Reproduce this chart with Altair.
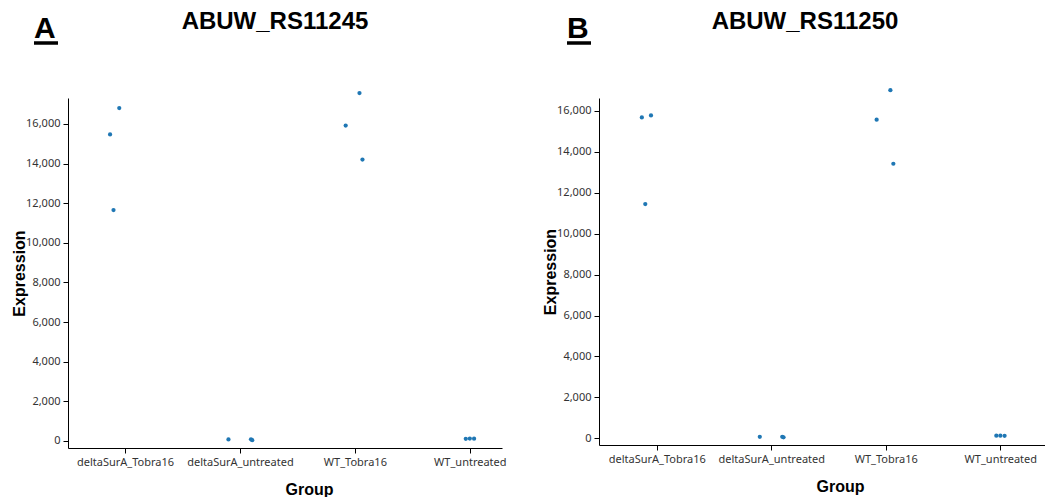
import altair as alt
import pandas as pd

groups = ["deltaSurA_Tobra16", "deltaSurA_untreated", "WT_Tobra16", "WT_untreated"]
genes = ["ABUW_RS11245", "ABUW_RS11250"]
panel_letters = ["A", "B"]

# jitter offsets, one per replicate per group
jitter = {
    "deltaSurA_Tobra16": [-0.13, -0.05, -0.10],
    "deltaSurA_untreated": [-0.10, 0.096, 0.107],
    "WT_Tobra16": [-0.08, 0.04, 0.066],
    "WT_untreated": [-0.035, 0.0, 0.037],
}

expr_rs11245 = {
    "deltaSurA_Tobra16": [15470, 16800, 11650],
    "deltaSurA_untreated": [80, 85, 40],
    "WT_Tobra16": [15920, 17560, 14200],
    "WT_untreated": [110, 120, 115],
}
expr_rs11250 = {
    "deltaSurA_Tobra16": [15685, 15783, 11448],
    "deltaSurA_untreated": [75, 70, 50],
    "WT_Tobra16": [15572, 17016, 13420],
    "WT_untreated": [125, 130, 120],
}

y_domains = [[-354, 17308], [-328, 16634]]
x_domains = [[-0.496, 3.28], [-0.504, 3.39]]
widths = [434, 446]
heights = [350, 347]
title_center = [207, 206]
letter_x = [-34, -32]
group_title_x = [241, 241]

label_expr = "[" + ",".join("'" + g + "'" for g in groups) + "][datum.value]"


def make_df(values):
    rows = []
    for i, g in enumerate(groups):
        for off, v in zip(jitter[g], values[g]):
            rows.append({"Group": g, "pos": i + off, "Expression": v})
    return pd.DataFrame(rows)


def panel(k, values):
    df = make_df(values)
    pts = alt.Chart(df).mark_circle(size=18, color="#1f77b4", opacity=1).encode(
        x=alt.X(
            "pos:Q",
            scale=alt.Scale(domain=x_domains[k], nice=False, zero=False),
            axis=alt.Axis(
                title="Group",
                values=[0, 1, 2, 3],
                labelExpr=label_expr,
                grid=False,
                titleX=group_title_x[k],
            ),
        ),
        y=alt.Y(
            "Expression:Q",
            scale=alt.Scale(domain=y_domains[k], nice=False, zero=False),
            axis=alt.Axis(title="Expression", format=",.0f", grid=False),
        ),
    )
    ann = pd.DataFrame({"letter": [panel_letters[k]], "gene": [genes[k]]})
    letter = alt.Chart(ann).mark_text(
        fontSize=30, fontWeight="bold", font="Liberation Sans", align="left",
        baseline="alphabetic", color="black"
    ).encode(text="letter:N", x=alt.value(letter_x[k]), y=alt.value(-60))
    underline = alt.Chart(ann).mark_rule(
        color="black", strokeWidth=3.5
    ).encode(x=alt.value(letter_x[k]), x2=alt.value(letter_x[k] + 24), y=alt.value(-55))
    title = alt.Chart(ann).mark_text(
        fontSize=24, fontWeight="bold", font="Liberation Sans", align="center",
        baseline="alphabetic", color="black"
    ).encode(text="gene:N", x=alt.value(title_center[k]), y=alt.value(-69))
    return alt.layer(pts, letter, underline, title).properties(
        width=widths[k],
        height=heights[k],
    )


chart = alt.hconcat(
    panel(0, expr_rs11245), panel(1, expr_rs11250), spacing=35
).resolve_scale(x="independent", y="independent").configure_view(
    stroke=None
).configure_axis(
    domainColor="black",
    domainWidth=1,
    tickColor="black",
    tickSize=5,
    labelFont="Noto Sans",
    labelFontSize=11,
    labelColor="#333333",
    labelPadding=3,
    titleFont="Liberation Sans",
    titleFontSize=16,
    titleFontWeight="bold",
    titleColor="black",
).configure_axisY(titlePadding=-2).configure_axisX(titlePadding=14).properties(
    padding={"left": 11, "top": 10, "right": 0, "bottom": 0}
)

chart.save("out.html", embed_options={"renderer": "svg", "actions": False})
